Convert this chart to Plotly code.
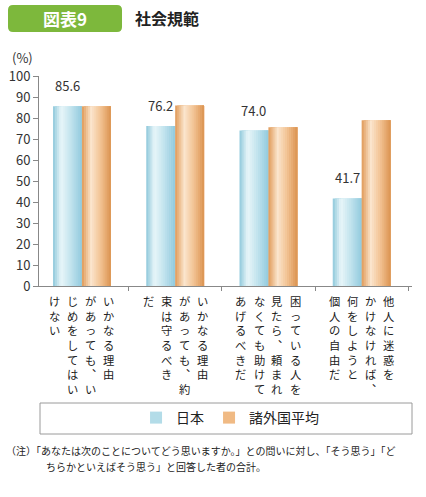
import plotly.graph_objects as go

W, H = 426, 497
FONT = "Noto Sans CJK JP"

categories = ["q1", "q2", "q3", "q4"]
japan = [85.6, 76.2, 74.0, 41.7]
others = [85.6, 85.9, 75.6, 78.9]
japan_labels = ["85.6", "76.2", "74.0", "41.7"]
series_names = ["日本", "諸外国平均"]
y_ticks = [0, 10, 20, 30, 40, 50, 60, 70, 80, 90, 100]
# each category label is written vertically, columns from right to left
category_text = [
    ["いかなる理由", "があっても、い", "じめをしてはい", "けない"],
    ["いかなる理由", "があっても、約", "束は守るべき", "だ"],
    ["困っている人を", "見たら、頼まれ", "なくても助けて", "あげるべきだ"],
    ["他人に迷惑を", "かけなければ、", "何をしようと", "個人の自由だ"],
]
note_lines = [
    "（注）「あなたは次のことについてどう思いますか。」との問いに対し、「そう思う」「ど",
    "ちらかといえばそう思う」と回答した者の合計。",
]

blue_stops = [(0, "#8fc8db"), (0.28, "#e9f6f9"), (0.6, "#c4e4ee"), (1, "#92cadd")]
orange_stops = [(0, "#e09a58"), (0.32, "#fbe5cd"), (0.65, "#f2c292"), (1, "#db9350")]


def mix(stops, t):
    for (t0, c0), (t1, c1) in zip(stops, stops[1:]):
        if t0 <= t <= t1:
            f = (t - t0) / (t1 - t0)
            a = [int(c0[i:i + 2], 16) for i in (1, 3, 5)]
            b = [int(c1[i:i + 2], 16) for i in (1, 3, 5)]
            return "rgb(%d,%d,%d)" % tuple(round(a[i] + (b[i] - a[i]) * f) for i in range(3))
    return stops[-1][1]


def px(x, y):
    return "%.4f,%.4f" % (x / W, 1 - y / H)


fig = go.Figure()

bw = 0.31
N = 14
for vals, stops, off in [(japan, blue_stops, -bw), (others, orange_stops, 0)]:
    for k in range(N):
        fig.add_trace(go.Bar(
            x=categories, y=vals,
            offset=off + k * bw / N, width=bw * (N - k) / N,
            marker=dict(color=mix(stops, (k + 0.5) / N), line_width=0),
            showlegend=False, hoverinfo="skip",
        ))

# legend entries
for name, col in zip(series_names, ["#b3dce8", "#f0ba84"]):
    fig.add_trace(go.Bar(x=[categories[0]], y=[None], name=name,
                         marker=dict(color=col, line_width=0)))

ann = []
for c, v, t in zip(categories, japan, japan_labels):
    ann.append(dict(x=c, y=v, xref="x", yref="y", text=t, showarrow=False,
                    xshift=-14.5, yshift=9, yanchor="bottom",
                    font=dict(size=13, color="#333")))

col_step = 18
for c, cols in zip(categories, category_text):
    n = len(cols)
    for j, line in enumerate(cols):
        xs = (n - 1) / 2 * col_step - j * col_step
        txt = "<br>".join(line.replace("、", "︑"))
        ann.append(dict(x=c, y=0, xref="x", yref="y", text=txt, showarrow=False,
                        xshift=xs, yshift=-5, yanchor="top", valign="top",
                        font=dict(size=11.3, color="#222")))


def note(x, y, text, size, color, anchor="center", weight="normal"):
    ann.append(dict(x=x / W, y=1 - y / H, xref="paper", yref="paper", text=text,
                    xanchor=anchor, yanchor="middle", showarrow=False,
                    font=dict(size=size, color=color, weight=weight)))


note(22, 58, "(%)", 13, "#333")
note(65, 18, "図表9", 17, "white", weight="bold")
note(133, 18, "社会規範", 16, "#222", "left", "bold")
note(4, 450, note_lines[0], 10, "#222", "left")
note(44, 466, note_lines[1], 10, "#222", "left")

# rounded green title box
x0, y0, x1, y1, r = 8, 5, 122, 32, 5
p = ("M " + px(x0 + r, y0) + " L " + px(x1 - r, y0) + " Q " + px(x1, y0) + " " + px(x1, y0 + r)
     + " L " + px(x1, y1 - r) + " Q " + px(x1, y1) + " " + px(x1 - r, y1)
     + " L " + px(x0 + r, y1) + " Q " + px(x0, y1) + " " + px(x0, y1 - r)
     + " L " + px(x0, y0 + r) + " Q " + px(x0, y0) + " " + px(x0 + r, y0) + " Z")

shapes = [
    dict(type="path", path=p, xref="paper", yref="paper", fillcolor="#7db83c",
         line_width=0, layer="below"),
    dict(type="rect", xref="paper", yref="paper", x0=40 / W, x1=412 / W,
         y0=1 - 434 / H, y1=1 - 403 / H, line=dict(color="#9a9a9a", width=1)),
]

fig.update_layout(
    width=W, height=H, margin=dict(l=0, r=0, t=0, b=0, pad=0, autoexpand=False),
    paper_bgcolor="white", plot_bgcolor="rgba(0,0,0,0)",
    barmode="overlay",
    font=dict(family=FONT, color="#333"),
    annotations=ann, shapes=shapes,
    legend=dict(orientation="h", x=0.54, xanchor="center", y=1 - 418 / H, yanchor="middle",
                font=dict(size=14, color="#222"), bgcolor="rgba(0,0,0,0)"),
)
fig.update_xaxes(type="category", range=[-0.46, 3.54], domain=[39 / W, 412 / W],
                 showline=True, linecolor="#888", ticks="outside", tickson="boundaries",
                 ticklen=4, tickcolor="#888", showticklabels=False, showgrid=False,
                 automargin=False)
fig.update_yaxes(range=[0, 100], domain=[1 - 286 / H, 1 - 76 / H], tickvals=y_ticks,
                 showline=True, linecolor="#888", ticks="outside", ticklen=5, tickcolor="#888",
                 tickfont=dict(size=13, color="#333"), showgrid=False, zeroline=False,
                 automargin=False)

fig.write_html("out.html", config={"displayModeBar": False},
               post_script="document.body.style.margin='0';")
